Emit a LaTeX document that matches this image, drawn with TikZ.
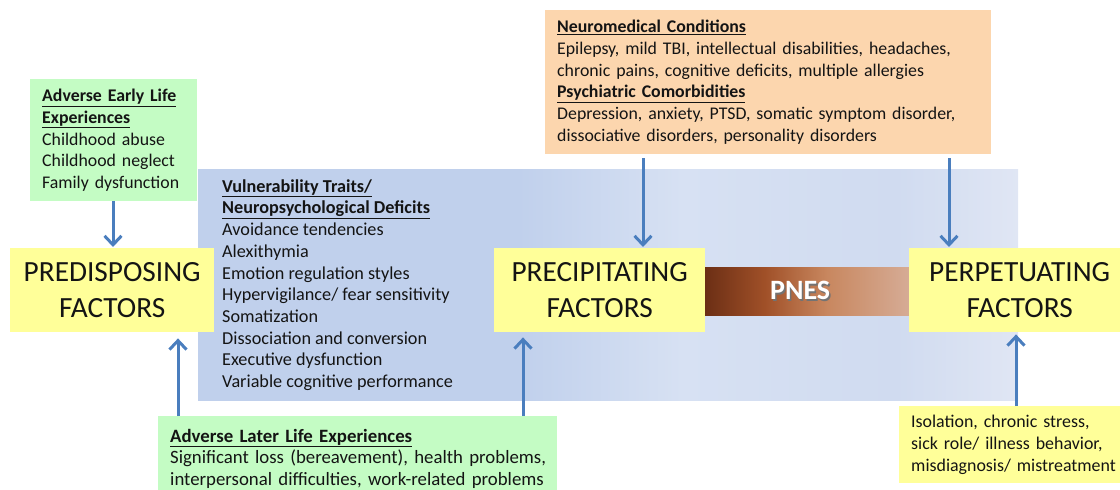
\documentclass[tikz,border=0pt]{standalone}
\usepackage{fontspec}
\setmainfont{Carlito}
\usetikzlibrary{arrows.meta}

% palette
\definecolor{ink}{RGB}{20,20,20}
\definecolor{greenfill}{RGB}{196,252,196}
\definecolor{factorfill}{RGB}{255,255,153}
\definecolor{orangefill}{RGB}{252,214,174}
\definecolor{arrowblue}{RGB}{74,126,190}
\definecolor{bgA}{RGB}{192,208,236}
\definecolor{bgB}{RGB}{215,225,243}
\definecolor{bgC}{RGB}{208,219,240}
\definecolor{bgD}{RGB}{224,230,244}
\definecolor{brA}{RGB}{105,45,20}
\definecolor{brB}{RGB}{160,80,40}
\definecolor{brC}{RGB}{200,135,95}
\definecolor{brD}{RGB}{214,172,150}

% the path is mapped onto 25bp..75bp of a shading
\pgfdeclarehorizontalshading{fieldshade}{100bp}{color(0bp)=(bgA); color(25bp)=(bgA); color(44.5bp)=(bgA); color(54.5bp)=(bgB); color(67.5bp)=(bgC); color(75bp)=(bgD); color(100bp)=(bgD)}
\pgfdeclarehorizontalshading{pnesshade}{100bp}{color(0bp)=(brA); color(25bp)=(brA); color(40bp)=(brB); color(55bp)=(brC); color(75bp)=(brD); color(100bp)=(brD)}

\newcommand\headline[1]{\underline{\textbf{#1}}}

\tikzset{
  body/.style={font=\fontsize{17.8}{21.8}\selectfont, text=ink},
  panel/.style={body, align=left, inner xsep=12pt, inner ysep=0pt, anchor=north west},
  factor/.style={fill=factorfill, font=\fontsize{29.3}{36}\selectfont, text=ink,
    align=center, inner sep=0pt, anchor=north west, minimum height=84pt},
  arr/.style={draw=arrowblue, line width=3pt, -{Straight Barb[length=9pt,width=17pt]}},
}

\begin{document}
\begin{tikzpicture}[x=1pt, y=-1pt]
\useasboundingbox (0,0) rectangle (1120,490);

% shaded field behind the factors
\node[shade, shading=fieldshade, minimum width=820pt, minimum height=231pt,
  inner sep=0pt, anchor=north west] (field) at (198,169) {};

% PNES bar between the precipitating and perpetuating boxes
\node[shade, shading=pnesshade, minimum width=208pt, minimum height=48pt,
  inner sep=0pt, anchor=north west,
  font=\fontsize{28}{32}\selectfont\bfseries, text=white] (pnes) at (702,267)
  {\hspace*{-12pt}\makebox[0pt][l]{\hspace{1.5pt}\raisebox{-1.5pt}{\color{black!55}PNES}}PNES};

% the three factor boxes
\node[factor, minimum width=204pt] (pre) at (10,248) {PREDISPOSING\\FACTORS};
\node[factor, minimum width=211pt] (prec) at (494,248) {PRECIPITATING\\FACTORS};
\node[factor, minimum width=221pt] (perp) at (909,248) {PERPETUATING\\FACTORS};

% vulnerability list on the field (placed by the baseline of its last line)
\node[align=left, anchor=base west, inner sep=0pt, text=ink,
  font=\fontsize{18.2}{21.7}\selectfont] (traits) at (222,387.5)
  {\headline{Vulnerability Traits/}\\
   \headline{Neuropsychological Deficits}\\
   Avoidance tendencies\\
   Alexithymia\\
   Emotion regulation styles\\
   Hypervigilance/ fear sensitivity\\
   Somatization\\
   Dissociation and conversion\\
   Executive dysfunction\\
   Variable cognitive performance};

% text panels
\node[panel, fill=greenfill, text width=143pt, minimum height=122pt,
  font=\fontsize{17.8}{21.7}\selectfont] (early) at (30,79)
  {\headline{Adverse Early Life}\\
   \headline{Experiences}\\
   Childhood abuse\\
   Childhood neglect\\
   Family dysfunction};

\node[panel, fill=orangefill, text width=422pt, minimum height=144pt] (ortho) at (545,10)
  {\headline{Neuromedical Conditions}\\
   Epilepsy, mild TBI, intellectual disabilities, headaches,\\
   chronic pains, cognitive deficits, multiple allergies\\
   \headline{Psychiatric Comorbidities}\\
   Depression, anxiety, PTSD, somatic symptom disorder,\\
   dissociative disorders, personality disorders};

\node[panel, fill=greenfill, text width=375pt, minimum height=85pt,
  font=\fontsize{18.8}{21.5}\selectfont] (later) at (158,416)
  {\mbox{\headline{Adverse Later Life Experiences}}\\
   \mbox{Significant loss (bereavement), health problems,}\\
   \mbox{interpersonal difficulties, work-related problems}};

\node[panel, fill=factorfill, text width=212pt, minimum height=77pt,
  font=\fontsize{17.9}{22}\selectfont] (course) at (899,406)
  {Isolation, chronic stress,\\
   sick role/ illness behavior,\\
   \mbox{misdiagnosis/ mistreatment}};

% arrow columns
\coordinate (c1) at (113,0);
\coordinate (c2) at (643,0);
\coordinate (c3) at (949,0);
\coordinate (c4) at (178,0);
\coordinate (c5) at (523,0);
\coordinate (c6) at (1016,0);

% influences pointing down onto the factors
\draw[arr] (early.south -| c1) -- ([yshift=1pt]pre.north -| c1);
\draw[arr] ([yshift=-4pt]ortho.south -| c2) -- ([yshift=1pt]prec.north -| c2);
\draw[arr] ([yshift=-4pt]ortho.south -| c3) -- ([yshift=1pt]perp.north -| c3);

% influences pointing up onto the factors
\draw[arr] (later.north -| c4) -- ([yshift=-6pt]pre.south -| c4);
\draw[arr] (later.north -| c5) -- ([yshift=-5pt]prec.south -| c5);
\draw[arr] (course.north -| c6) -- ([yshift=-2pt]perp.south -| c6);
\end{tikzpicture}
\end{document}
